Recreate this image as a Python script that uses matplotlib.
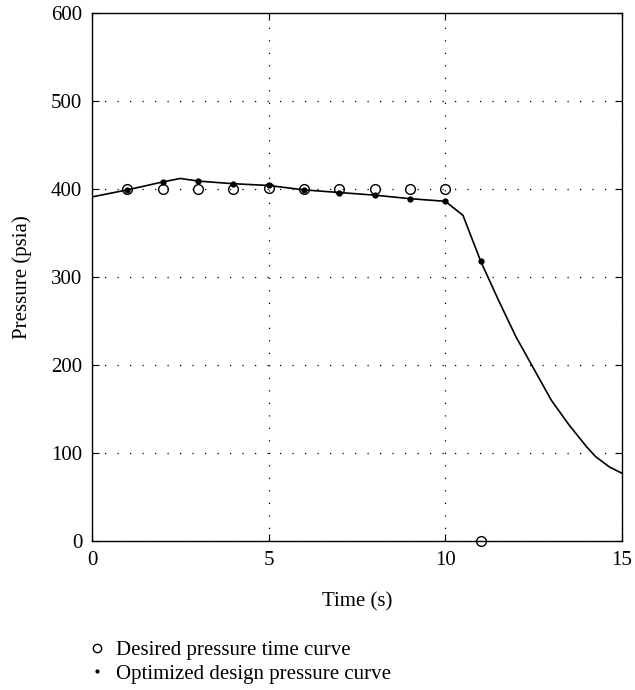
import matplotlib as mpl
mpl.use('Agg')
import matplotlib.pyplot as plt
import numpy as np

plt.rcdefaults()
plt.rcParams['font.family'] = ['Liberation Serif', 'DejaVu Serif']

# desired pressure targets
desired_t = [1, 2, 3, 4, 5, 6, 7, 8, 9, 10, 11]
desired_p = [400, 400, 400, 400, 401, 400, 400, 400, 400, 400, 0]

# optimized design samples (dots)
opt_t = [1, 2, 3, 4, 5, 6, 7, 8, 9, 10, 11]
opt_p = [399, 408, 409, 406, 404, 399, 396, 393, 389, 386, 318]

# optimized design pressure curve (line)
curve_t = [0, 1, 2, 2.5, 3, 4, 5, 6, 7, 8, 9, 10, 10.5, 11, 11.5, 12, 12.5,
           13, 13.5, 14, 14.25, 14.65, 15]
curve_p = [391, 399, 408, 412, 409, 406, 404, 399, 396, 393, 389, 386, 370,
           318, 274, 232, 196, 160, 132, 107, 96, 84, 77]

fig = plt.figure(figsize=(6.35, 6.9), dpi=100)
ax = fig.add_axes([0.1449, 0.2159, 0.8346, 0.7653])

ax.plot(curve_t, curve_p, color='black', lw=1.2, zorder=3)
ax.plot(opt_t, opt_p, 'o', color='black', ms=3.5, zorder=4)
ax.plot(desired_t, desired_p, 'o', mfc='none', mec='black', mew=1.0, ms=7,
        zorder=5, clip_on=False)

ax.set_xlim(0, 15)
ax.set_ylim(0, 600)
ax.set_xticks([0, 5, 10, 15])
ax.set_yticks(range(0, 601, 100))
ax.grid(True, color='black', linestyle=(0, (1, 9)), lw=0.9)
ax.tick_params(direction='in', top=True, right=True, labelsize=15, length=5)
ax.tick_params(axis='x', pad=7)
ax.tick_params(axis='y', pad=7)
for s in ax.spines.values():
    s.set_linewidth(1.0)

ax.set_xlabel('Time (s)', fontsize=15, labelpad=16)
ax.set_ylabel('Pressure (psia)', fontsize=15, labelpad=14)

h1 = plt.Line2D([], [], marker='o', ls='none', mfc='none', mec='black', ms=6)
h2 = plt.Line2D([], [], marker='.', ls='none', color='black', ms=4)
fig.legend([h1, h2], ['Desired pressure time curve', 'Optimized design pressure curve'],
           loc='upper left', bbox_to_anchor=(0.14, 0.072), frameon=False,
           fontsize=15, handlelength=0.8, handletextpad=0.5, labelspacing=0.2,
           borderaxespad=0, borderpad=0)

plt.savefig('out.png', dpi=100)
